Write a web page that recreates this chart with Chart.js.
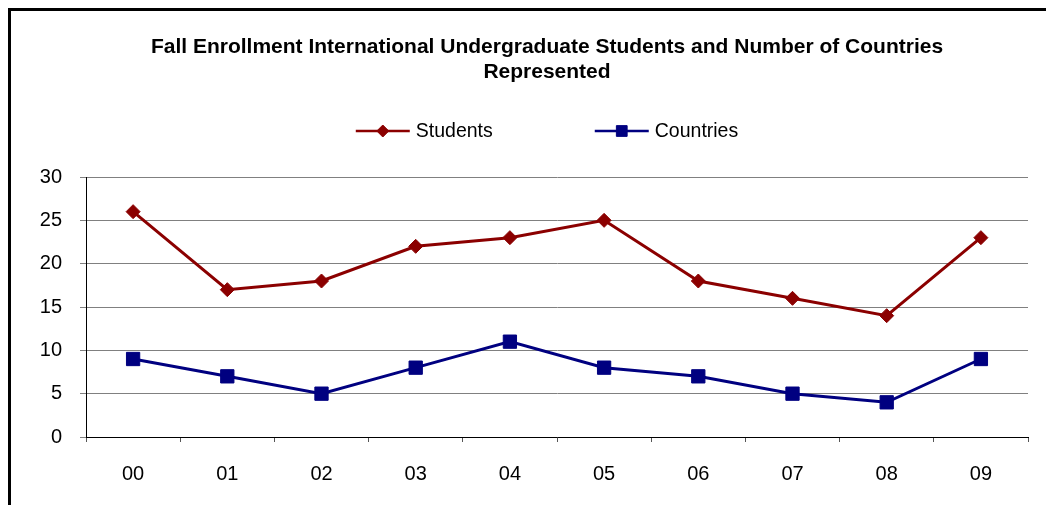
<!DOCTYPE html>
<html>
<head>
<meta charset="utf-8">
<script src="https://cdn.jsdelivr.net/npm/chart.js@4"></script>
<style>
  html, body { margin: 0; padding: 0; background: #fff; }
  canvas { display: block; }
</style>
</head>
<body>
<canvas id="enrollChart" width="1046" height="505"></canvas>
<script>
const years = ["00", "01", "02", "03", "04", "05", "06", "07", "08", "09"];
const students = [26, 17, 18, 22, 23, 25, 18, 16, 14, 23];
const countries = [9, 7, 5, 8, 11, 8, 7, 5, 4, 9];
const yMin = 0, yMax = 30, yStep = 5;
const titleLines = [
  "Fall Enrollment International Undergraduate Students and Number of Countries",
  "Represented"
];

const FONT = "'Liberation Sans', Arial, sans-serif";

// black frame round the chart, only left and top edges are visible
const framePlugin = {
  id: "frame",
  beforeDraw(chart) {
    const ctx = chart.ctx;
    ctx.save();
    ctx.strokeStyle = "#000";
    ctx.lineWidth = 3;
    ctx.beginPath();
    ctx.moveTo(9.5, 505);
    ctx.lineTo(9.5, 9.5);
    ctx.lineTo(1046, 9.5);
    ctx.stroke();
    ctx.restore();
  }
};

// title + legend drawn by hand: the title is centred on the full frame,
// which is wider than the window, and the legend keys have a line through the marker
const headerPlugin = {
  id: "header",
  afterDraw(chart) {
    const ctx = chart.ctx;
    const cx = 547;
    ctx.save();
    ctx.fillStyle = "#000";
    ctx.textAlign = "center";
    ctx.textBaseline = "middle";
    ctx.font = "bold 21px " + FONT;
    titleLines.forEach((t, i) => ctx.fillText(t, cx, 47.5 + i * 25));

    const lineLen = 54, gapText = 6, gapItems = 102, cy = 131;
    ctx.font = "19.5px " + FONT;
    const items = chart.data.datasets.map(ds => ({
      ds, w: lineLen + gapText + ctx.measureText(ds.label).width
    }));
    const total = items.reduce((s, it) => s + it.w, 0) + gapItems * (items.length - 1);
    let x = cx - total / 2;
    items.forEach(({ ds, w }) => {
      ctx.strokeStyle = ds.borderColor;
      ctx.lineWidth = 2.5;
      ctx.beginPath();
      ctx.moveTo(x, cy);
      ctx.lineTo(x + lineLen, cy);
      ctx.stroke();
      ctx.fillStyle = ds.pointBackgroundColor;
      ctx.strokeStyle = ds.pointBorderColor;
      ctx.lineWidth = 1;
      Chart.helpers.drawPoint(ctx, {
        pointStyle: ds.pointStyle,
        radius: ds.legendRadius,
        rotation: 0,
        borderWidth: 1
      }, x + lineLen / 2, cy);
      ctx.fillStyle = "#000";
      ctx.textAlign = "left";
      ctx.fillText(ds.label, x + lineLen + gapText, cy + 1);
      x += w + gapItems;
    });
    ctx.restore();
  }
};

const ctx = document.getElementById("enrollChart").getContext("2d");
new Chart(ctx, {
  type: "line",
  data: {
    labels: years,
    datasets: [{
      label: "Students",
      data: students,
      borderColor: "#8b0000",
      borderWidth: 3,
      pointStyle: "rectRot",
      pointRadius: 7,
      legendRadius: 6,
      pointBackgroundColor: "#8b0000",
      pointBorderColor: "#8b0000",
      pointBorderWidth: 1,
      tension: 0
    }, {
      label: "Countries",
      data: countries,
      borderColor: "#000080",
      borderWidth: 3,
      pointStyle: "rect",
      pointRadius: 9.4,
      legendRadius: 7.6,
      pointBackgroundColor: "#000080",
      pointBorderColor: "#000080",
      pointBorderWidth: 1,
      tension: 0
    }]
  },
  options: {
    responsive: false,
    animation: false,
    layout: { padding: { left: 0, right: 18, top: 177, bottom: 0 } },
    plugins: {
      legend: { display: false },
      tooltip: { enabled: false },
      title: { display: false }
    },
    scales: {
      x: {
        offset: true,
        grid: {
          offset: true,
          drawOnChartArea: false,
          drawTicks: true,
          tickLength: 5,
          color: "#555"
        },
        border: { color: "#000", width: 1 },
        ticks: {
          color: "#000",
          padding: 20,
          autoSkip: false,
          maxRotation: 0,
          font: { family: FONT, size: 20 }
        },
        afterFit(scale) { scale.height = 68; }
      },
      y: {
        min: yMin,
        max: yMax,
        grid: {
          color: "#808080",
          tickLength: 6
        },
        border: { color: "#000", width: 1 },
        ticks: {
          stepSize: yStep,
          color: "#000",
          padding: 18,
          font: { family: FONT, size: 20 }
        },
        afterFit(scale) { scale.width = 86; }
      }
    }
  },
  plugins: [framePlugin, headerPlugin]
});
</script>
</body>
</html>
